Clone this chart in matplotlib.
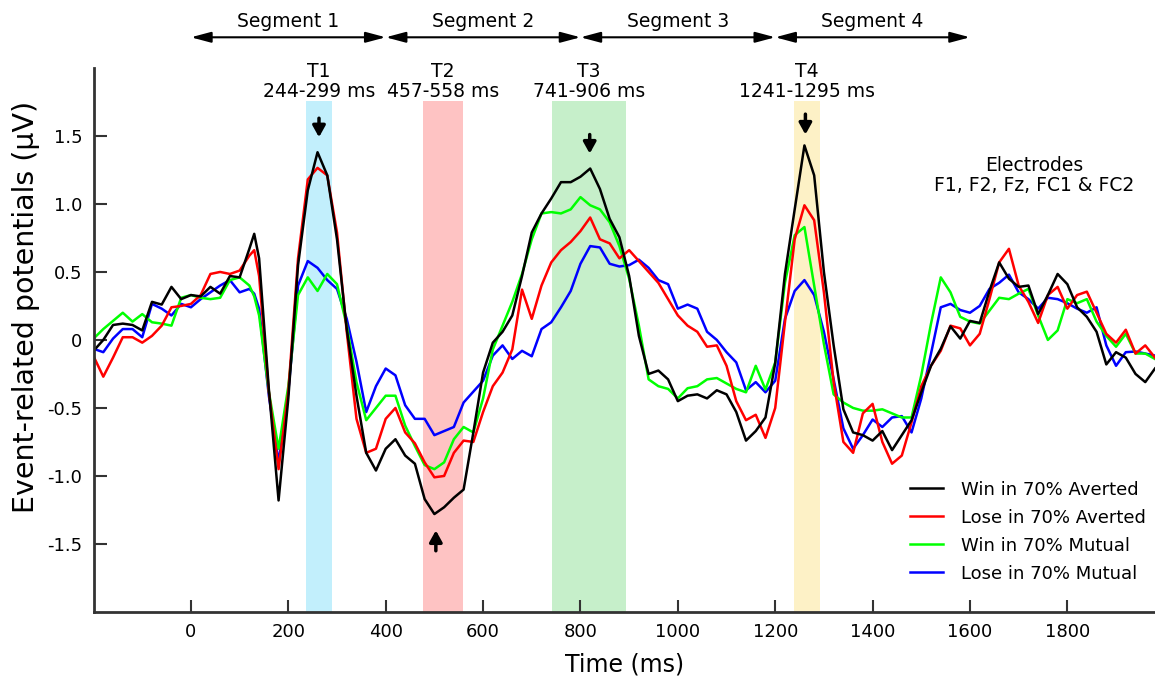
import matplotlib
matplotlib.use("Agg")
import matplotlib.pyplot as plt

# time axis (ms), one sample every 20 ms plus the 130 ms peak
times = list(range(-200, 130, 20)) + [130] + list(range(140, 2000, 20))

win_averted = [
    -0.08, 0.00, 0.11, 0.12, 0.11, 0.07, 0.28, 0.26, 0.39, 0.30,
    0.33, 0.32, 0.39, 0.34, 0.47, 0.46, 0.67,
    0.78,
    0.60, -0.36, -1.18, -0.43, 0.55, 1.10, 1.38, 1.21, 0.74, 0.08, -0.41, -0.83, -0.96,
    -0.80, -0.73, -0.85, -0.91, -1.17, -1.28, -1.23, -1.16, -1.10, -0.68,
    -0.24, -0.02, 0.06, 0.18, 0.47, 0.79, 0.93, 1.04, 1.16, 1.16,
    1.20, 1.26, 1.11, 0.89, 0.755, 0.47, 0.03, -0.25, -0.225, -0.29,
    -0.45, -0.41, -0.40, -0.43, -0.37, -0.40, -0.53, -0.74, -0.67, -0.57,
    -0.17, 0.485, 0.96, 1.43, 1.21, 0.50, -0.04, -0.51, -0.68, -0.70,
    -0.74, -0.67, -0.81, -0.70, -0.59, -0.385, -0.19, -0.065, 0.10, 0.01,
    0.14, 0.125, 0.36, 0.57, 0.45, 0.39, 0.40, 0.19, 0.33, 0.485,
    0.41, 0.24, 0.17, 0.06, -0.18, -0.09, -0.13, -0.25, -0.31, -0.21,
]

lose_averted = [
    -0.12, -0.27, -0.13, 0.02, 0.02, -0.02, 0.03, 0.105, 0.24, 0.25,
    0.265, 0.33, 0.485, 0.50, 0.485, 0.51, 0.62,
    0.66,
    0.47, -0.38, -0.95, -0.38, 0.60, 1.18, 1.265, 1.21, 0.79, 0.06, -0.58, -0.83, -0.80,
    -0.58, -0.50, -0.68, -0.76, -0.90, -1.01, -1.00, -0.83, -0.74, -0.75,
    -0.53, -0.34, -0.24, -0.07, 0.37, 0.155, 0.40, 0.57, 0.66, 0.72,
    0.80, 0.90, 0.74, 0.71, 0.60, 0.66, 0.58, 0.50, 0.42, 0.30,
    0.18, 0.105, 0.06, -0.05, -0.04, -0.19, -0.45, -0.59, -0.55, -0.72,
    -0.50, 0.13, 0.74, 0.99, 0.88, 0.35, -0.31, -0.75, -0.83, -0.54,
    -0.47, -0.75, -0.91, -0.85, -0.605, -0.34, -0.19, -0.08, 0.105, 0.085,
    -0.04, 0.045, 0.30, 0.57, 0.67, 0.40, 0.28, 0.125, 0.33, 0.39,
    0.23, 0.33, 0.355, 0.20, 0.045, -0.02, 0.075, -0.10, -0.04, -0.13,
]

win_mutual = [
    0.01, 0.08, 0.14, 0.20, 0.135, 0.19, 0.13, 0.12, 0.105, 0.31,
    0.33, 0.31, 0.30, 0.31, 0.44, 0.46, 0.40,
    0.32,
    0.18, -0.38, -0.80, -0.34, 0.33, 0.46, 0.36, 0.485, 0.41, 0.105, -0.31, -0.59, -0.50,
    -0.41, -0.41, -0.63, -0.78, -0.92, -0.95, -0.90, -0.73, -0.64, -0.68,
    -0.43, -0.07, 0.105, 0.28, 0.485, 0.74, 0.93, 0.94, 0.93, 0.96,
    1.05, 0.99, 0.96, 0.865, 0.69, 0.45, 0.105, -0.29, -0.34, -0.36,
    -0.43, -0.355, -0.34, -0.29, -0.28, -0.32, -0.36, -0.385, -0.19, -0.365,
    -0.165, 0.42, 0.77, 0.83, 0.40, -0.03, -0.40, -0.46, -0.50, -0.52,
    -0.52, -0.51, -0.54, -0.57, -0.57, -0.26, 0.12, 0.46, 0.35, 0.17,
    0.135, 0.12, 0.215, 0.31, 0.30, 0.34, 0.375, 0.18, 0.0, 0.07,
    0.30, 0.27, 0.30, 0.135, 0.03, -0.05, 0.045, -0.10, -0.10, -0.14,
]

lose_mutual = [
    -0.065, -0.09, 0.01, 0.08, 0.08, 0.02, 0.265, 0.23, 0.18, 0.265,
    0.24, 0.30, 0.35, 0.40, 0.44, 0.35, 0.375,
    0.34,
    0.23, -0.41, -0.90, -0.38, 0.40, 0.58, 0.53, 0.44, 0.375, 0.155, -0.16, -0.53, -0.34,
    -0.21, -0.26, -0.48, -0.58, -0.58, -0.70, -0.67, -0.64, -0.46, -0.38,
    -0.30, -0.115, -0.04, -0.14, -0.08, -0.12, 0.08, 0.13, 0.24, 0.36,
    0.56, 0.69, 0.68, 0.56, 0.54, 0.55, 0.59, 0.53, 0.44, 0.41,
    0.23, 0.26, 0.23, 0.06, 0.0, -0.09, -0.165, -0.37, -0.31, -0.385,
    -0.30, 0.155, 0.36, 0.44, 0.33, 0.06, -0.29, -0.65, -0.80, -0.70,
    -0.585, -0.64, -0.57, -0.56, -0.68, -0.43, -0.10, 0.24, 0.265, 0.22,
    0.20, 0.25, 0.375, 0.42, 0.48, 0.35, 0.30, 0.23, 0.31, 0.30,
    0.27, 0.23, 0.20, 0.24, -0.04, -0.19, -0.09, -0.085, -0.10, -0.115,
]

# shaded time windows (as drawn) and their labels
window_starts = [237, 477, 741, 1238]
window_ends = [289, 558, 894, 1292]
window_colors = ["#c2effc", "#fec3c3", "#c6efca", "#fdf1c6"]
window_labels = ["T1\n244-299 ms", "T2\n457-558 ms", "T3\n741-906 ms", "T4\n1241-1295 ms"]

segment_edges = [0, 400, 800, 1200, 1600]
segment_labels = ["Segment 1", "Segment 2", "Segment 3", "Segment 4"]

# small arrows marking the peaks: (time, tail, head)
peak_arrows = [(263, 1.63, 1.49), (503, -1.55, -1.40), (819, 1.51, 1.37), (1262, 1.66, 1.51)]

series_labels = ["Win in 70% Averted", "Lose in 70% Averted", "Win in 70% Mutual", "Lose in 70% Mutual"]
series_colors = ["black", "#ff0000", "#00ff00", "#0000ff"]

fig = plt.figure(figsize=(11.55, 6.79), dpi=100)
ax = fig.add_axes([0.081, 0.0987, 0.919, 0.8013])

# shading stops just under the window labels
for start, end, col in zip(window_starts, window_ends, window_colors):
    ax.axvspan(start, end, ymin=0, ymax=0.94, color=col, lw=0, zorder=0)

lines = {}
data = [win_averted, lose_averted, win_mutual, lose_mutual]
for idx in [3, 2, 1, 0]:
    ln, = ax.plot(times, data[idx], color=series_colors[idx], lw=1.8,
                  label=series_labels[idx], zorder=2, solid_joinstyle="round")
    lines[idx] = ln

ax.set_xlim(-200, 1980)
ax.set_ylim(-2, 2)
ax.set_xticks(range(0, 2000, 200))
ax.set_yticks([-1.5, -1.0, -0.5, 0, 0.5, 1.0, 1.5])
ax.set_yticklabels(["-1.5", "-1.0", "-0.5", "0", "0.5", "1.0", "1.5"])
ax.tick_params(direction="in", length=9, width=1.5, color="#333333", labelsize=13, pad=8)

for side in ["top", "right"]:
    ax.spines[side].set_visible(False)
for side in ["left", "bottom"]:
    ax.spines[side].set_color("#333333")
    ax.spines[side].set_linewidth(2)

ax.set_xlabel("Time (ms)", fontsize=17, labelpad=8)
ax.set_ylabel("Event-related potentials (µV)", fontsize=20.5)
ax.yaxis.set_label_coords(-0.050, 0.56)

# window labels
for start, end, lab in zip(window_starts, window_ends, window_labels):
    ax.text((start + end) / 2, 1.90, lab, ha="center", va="center", fontsize=13.5,
            linespacing=1.1, clip_on=False)

# segment arrows and labels
for i, lab in enumerate(segment_labels):
    a, b = segment_edges[i], segment_edges[i + 1]
    ax.annotate("", xy=(b, 2.225), xytext=(a, 2.225), annotation_clip=False,
                arrowprops=dict(arrowstyle="<|-|>,head_length=0.6,head_width=0.16",
                                color="black", lw=1.5, mutation_scale=20,
                                shrinkA=0, shrinkB=0))
    ax.text((a + b) / 2, 2.34, lab, ha="center", va="center", fontsize=13.5, clip_on=False)

for t, tail, head in peak_arrows:
    ax.annotate("", xy=(t, head), xytext=(t, tail),
                arrowprops=dict(arrowstyle="-|>,head_length=0.45,head_width=0.25",
                                color="black", lw=2.5, mutation_scale=15,
                                shrinkA=0, shrinkB=0))

ax.text(1732, 1.21, "Electrodes\nF1, F2, Fz, FC1 & FC2", ha="center", va="center",
        fontsize=13.5, linespacing=1.1)

ax.legend([lines[i] for i in range(4)], series_labels, loc="upper left",
          bbox_to_anchor=(0.788, 0.292), bbox_transform=fig.transFigure,
          frameon=False, fontsize=13, handlelength=1.8, handletextpad=1.0,
          labelspacing=0.55, borderpad=0, borderaxespad=0)

fig.savefig("out.png", dpi=100)
